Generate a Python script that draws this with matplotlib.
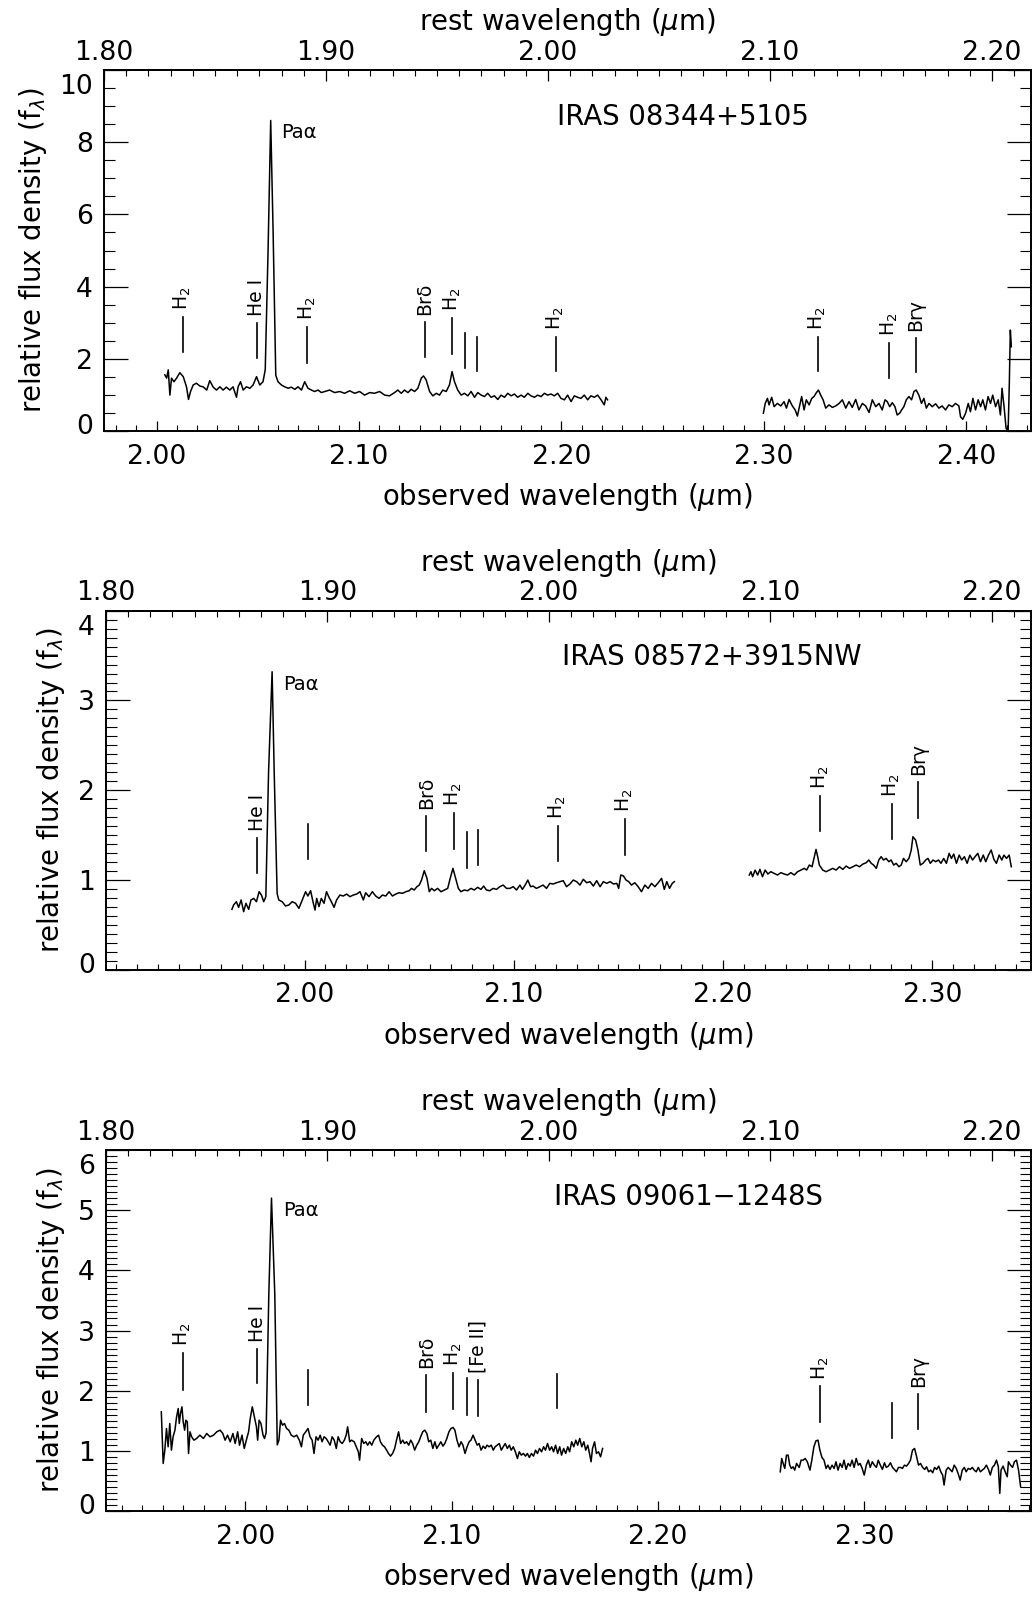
import matplotlib
matplotlib.use("Agg")
import matplotlib.pyplot as plt
from matplotlib.ticker import MultipleLocator, FormatStrFormatter
from matplotlib.transforms import ScaledTranslation

# ---- data ----
rest_range = [1.80, 2.2176]
rest_ticks = [1.80, 1.90, 2.00, 2.10, 2.20]

# IRAS 08344+5105
z1 = 0.0967
w1a = [2.0041, 2.0050, 2.0058, 2.0066, 2.0074, 2.0086, 2.0099, 2.0115, 2.0132, 2.0148,
       2.0158, 2.0168, 2.0181, 2.0197, 2.0214, 2.0230, 2.0248, 2.0263, 2.0280, 2.0296,
       2.0313, 2.0329, 2.0345, 2.0362, 2.0378, 2.0395, 2.0403, 2.0415, 2.0428, 2.0444,
       2.0461, 2.0477, 2.0494, 2.0510, 2.0526, 2.0537, 2.0551, 2.0564, 2.0576, 2.0589,
       2.0600, 2.0617, 2.0633, 2.0650, 2.0666, 2.0683, 2.0699, 2.0716, 2.0732, 2.0748,
       2.0765, 2.0781, 2.0798, 2.0814, 2.0831, 2.0855, 2.0880, 2.0905, 2.0929, 2.0954,
       2.0979, 2.1003, 2.1028, 2.1053, 2.1077, 2.1102, 2.1127, 2.1151, 2.1176, 2.1192,
       2.1209, 2.1225, 2.1242, 2.1258, 2.1275, 2.1291, 2.1308, 2.1319, 2.1332, 2.1349,
       2.1365, 2.1382, 2.1398, 2.1414, 2.1431, 2.1447, 2.1460, 2.1472, 2.1488, 2.1505,
       2.1521, 2.1538, 2.1554, 2.1571, 2.1587, 2.1604, 2.1620, 2.1636, 2.1653, 2.1669,
       2.1686, 2.1702, 2.1719, 2.1735, 2.1752, 2.1768, 2.1784, 2.1801, 2.1817, 2.1834,
       2.1850, 2.1867, 2.1883, 2.1900, 2.1916, 2.1932, 2.1949, 2.1965, 2.1982, 2.1998,
       2.2015, 2.2031, 2.2048, 2.2064, 2.2080, 2.2097, 2.2113, 2.2130, 2.2146, 2.2163,
       2.2179, 2.2196, 2.2212, 2.2220, 2.2228]
f1a = [1.56, 1.47, 1.70, 1.00, 1.47, 1.37, 1.47, 1.62, 1.51, 1.23,
       0.88, 1.10, 1.28, 1.33, 1.25, 1.23, 1.14, 1.40, 1.22, 1.14,
       1.23, 1.14, 1.22, 1.14, 1.23, 0.94, 1.23, 1.37, 1.14, 1.23,
       1.19, 1.28, 1.51, 1.28, 1.37, 1.70, 5.00, 8.60, 5.50, 1.55,
       1.37, 1.28, 1.23, 1.19, 1.22, 1.16, 1.23, 1.14, 1.37, 1.19,
       1.14, 1.10, 1.14, 1.07, 1.10, 1.14, 1.07, 1.10, 1.05, 1.12,
       1.05, 1.10, 1.00, 1.07, 1.05, 1.10, 1.00, 0.98, 1.07, 1.14,
       1.05, 1.14, 1.07, 1.16, 1.10, 1.19, 1.47, 1.53, 1.42, 1.10,
       0.98, 1.05, 1.00, 1.14, 1.10, 1.28, 1.65, 1.37, 1.14, 1.00,
       1.05, 0.98, 1.10, 0.94, 1.07, 1.00, 0.96, 1.05, 0.94, 0.98,
       0.88, 1.00, 0.94, 1.05, 0.98, 1.03, 0.94, 1.00, 0.94, 1.05,
       0.98, 0.94, 1.00, 0.96, 1.05, 1.00, 1.03, 0.98, 1.05, 0.91,
       0.87, 1.00, 0.82, 0.98, 0.94, 0.91, 1.00, 0.87, 0.98, 0.94,
       1.00, 0.87, 0.73, 0.94, 0.87]
w1b = [2.2998, 2.3007, 2.3018, 2.3026, 2.3039, 2.3051, 2.3067, 2.3084, 2.3100, 2.3112,
       2.3125, 2.3141, 2.3155, 2.3166, 2.3178, 2.3187, 2.3199, 2.3210, 2.3224, 2.3237,
       2.3248, 2.3260, 2.3270, 2.3281, 2.3293, 2.3306, 2.3322, 2.3339, 2.3355, 2.3372,
       2.3388, 2.3405, 2.3421, 2.3437, 2.3454, 2.3470, 2.3487, 2.3503, 2.3520, 2.3536,
       2.3553, 2.3569, 2.3585, 2.3599, 2.3610, 2.3622, 2.3635, 2.3648, 2.3659, 2.3671,
       2.3681, 2.3692, 2.3704, 2.3717, 2.3730, 2.3742, 2.3753, 2.3766, 2.3779, 2.3791,
       2.3803, 2.3816, 2.3832, 2.3849, 2.3865, 2.3881, 2.3898, 2.3914, 2.3931, 2.3947,
       2.3964, 2.3972, 2.3983, 2.3997, 2.4010, 2.4021, 2.4033, 2.4046, 2.4059, 2.4071,
       2.4082, 2.4095, 2.4108, 2.4120, 2.4131, 2.4145, 2.4158, 2.4169, 2.4177, 2.4187,
       2.4197, 2.4207, 2.4213, 2.4218, 2.4223]
f1b = [0.50, 0.77, 0.91, 0.73, 0.94, 0.68, 0.77, 0.70, 0.82, 0.64,
       0.88, 0.70, 0.59, 0.42, 0.73, 0.96, 0.59, 0.87, 0.73, 0.91,
       0.96, 1.07, 1.14, 1.00, 0.87, 0.64, 0.73, 0.66, 0.70, 0.77,
       0.87, 0.64, 0.82, 0.66, 0.88, 0.59, 0.77, 0.70, 0.52, 0.87,
       0.68, 0.77, 0.59, 0.87, 0.82, 0.68, 0.79, 0.68, 0.45, 0.50,
       0.59, 0.68, 0.87, 0.96, 0.87, 1.10, 1.14, 1.00, 0.77, 0.91,
       0.64, 0.77, 0.68, 0.76, 0.64, 0.70, 0.59, 0.73, 0.68, 0.77,
       0.70, 0.40, 0.33, 0.50, 0.77, 0.54, 0.91, 0.59, 0.87, 0.68,
       0.87, 0.59, 0.96, 0.77, 1.00, 0.68, 0.87, 0.45, 1.19, 0.68,
       0.08, 0.00, 1.33, 2.80, 2.34]

# IRAS 08572+3915NW
z2 = 0.0584
w2a = [1.9653, 1.9661, 1.9674, 1.9685, 1.9697, 1.9709, 1.9720, 1.9733, 1.9744, 1.9757,
       1.9770, 1.9783, 1.9794, 1.9805, 1.9815, 1.9828, 1.9845, 1.9855, 1.9869, 1.9877,
       1.9893, 1.9909, 1.9925, 1.9941, 1.9957, 1.9973, 1.9989, 2.0005, 2.0016, 2.0029,
       2.0042, 2.0050, 2.0058, 2.0069, 2.0080, 2.0093, 2.0105, 2.0117, 2.0128, 2.0141,
       2.0153, 2.0169, 2.0185, 2.0201, 2.0217, 2.0233, 2.0249, 2.0265, 2.0281, 2.0292,
       2.0308, 2.0324, 2.0340, 2.0356, 2.0372, 2.0388, 2.0404, 2.0420, 2.0436, 2.0452,
       2.0468, 2.0484, 2.0500, 2.0511, 2.0524, 2.0537, 2.0548, 2.0559, 2.0572, 2.0585,
       2.0596, 2.0607, 2.0620, 2.0636, 2.0652, 2.0668, 2.0684, 2.0696, 2.0709, 2.0722,
       2.0735, 2.0747, 2.0763, 2.0779, 2.0795, 2.0811, 2.0827, 2.0843, 2.0856, 2.0869,
       2.0885, 2.0901, 2.0917, 2.0933, 2.0949, 2.0965, 2.0981, 2.0997, 2.1013, 2.1029,
       2.1041, 2.1054, 2.1067, 2.1080, 2.1092, 2.1108, 2.1124, 2.1140, 2.1156, 2.1172,
       2.1188, 2.1204, 2.1220, 2.1236, 2.1252, 2.1268, 2.1284, 2.1300, 2.1316, 2.1332,
       2.1348, 2.1364, 2.1380, 2.1396, 2.1412, 2.1428, 2.1444, 2.1460, 2.1476, 2.1492,
       2.1501, 2.1511, 2.1524, 2.1536, 2.1549, 2.1562, 2.1578, 2.1594, 2.1610, 2.1626,
       2.1642, 2.1658, 2.1674, 2.1690, 2.1706, 2.1719, 2.1731, 2.1744, 2.1757, 2.1767]
f2a = [0.675, 0.723, 0.760, 0.697, 0.779, 0.649, 0.742, 0.675, 0.779, 0.797,
       0.760, 0.871, 0.834, 0.760, 0.816, 2.200, 3.320, 2.200, 0.850, 0.779,
       0.760, 0.712, 0.723, 0.760, 0.742, 0.686, 0.779, 0.871, 0.823, 0.882,
       0.742, 0.667, 0.797, 0.705, 0.797, 0.742, 0.871, 0.808, 0.760, 0.697,
       0.779, 0.834, 0.823, 0.845, 0.816, 0.834, 0.845, 0.871, 0.779, 0.860,
       0.816, 0.871, 0.823, 0.797, 0.834, 0.823, 0.871, 0.823, 0.845, 0.860,
       0.853, 0.871, 0.882, 0.908, 0.890, 0.927, 0.945, 1.001, 1.105, 1.020,
       0.871, 0.908, 0.882, 0.908, 0.871, 0.890, 0.908, 1.020, 1.131, 1.020,
       0.908, 0.871, 0.890, 0.882, 0.908, 0.890, 0.920, 0.897, 0.934, 0.890,
       0.882, 0.908, 0.897, 0.927, 0.945, 0.908, 0.908, 0.927, 0.890, 0.945,
       0.897, 0.945, 1.001, 0.927, 0.934, 0.908, 0.927, 0.945, 0.908, 0.964,
       0.957, 0.971, 0.983, 0.994, 0.927, 0.957, 1.001, 0.983, 0.945, 1.009,
       0.971, 0.983, 0.934, 0.994, 0.927, 0.983, 0.964, 0.983, 0.957, 0.964,
       0.908, 1.057, 1.046, 1.001, 0.983, 0.945, 0.971, 0.927, 0.871, 0.945,
       0.908, 0.964, 0.927, 0.971, 1.020, 0.897, 0.983, 0.908, 0.964, 0.983]
w2b = [2.2125, 2.2133, 2.2141, 2.2153, 2.2165, 2.2176, 2.2188, 2.2201, 2.2214, 2.2228,
       2.2244, 2.2260, 2.2276, 2.2292, 2.2308, 2.2324, 2.2340, 2.2356, 2.2372, 2.2388,
       2.2399, 2.2412, 2.2425, 2.2436, 2.2444, 2.2452, 2.2460, 2.2476, 2.2492, 2.2508,
       2.2524, 2.2540, 2.2556, 2.2572, 2.2588, 2.2604, 2.2620, 2.2636, 2.2652, 2.2668,
       2.2684, 2.2696, 2.2708, 2.2719, 2.2732, 2.2744, 2.2755, 2.2767, 2.2779, 2.2792,
       2.2803, 2.2815, 2.2827, 2.2840, 2.2851, 2.2862, 2.2875, 2.2888, 2.2899, 2.2907,
       2.2920, 2.2931, 2.2942, 2.2955, 2.2968, 2.2979, 2.2990, 2.3003, 2.3016, 2.3029,
       2.3041, 2.3054, 2.3067, 2.3080, 2.3091, 2.3102, 2.3115, 2.3128, 2.3140, 2.3153,
       2.3166, 2.3179, 2.3192, 2.3204, 2.3217, 2.3230, 2.3243, 2.3255, 2.3268, 2.3281,
       2.3294, 2.3306, 2.3319, 2.3332, 2.3342, 2.3354, 2.3367, 2.3377]
f2b = [1.057, 1.094, 1.038, 1.112, 1.057, 1.120, 1.038, 1.112, 1.068, 1.094,
       1.075, 1.057, 1.083, 1.068, 1.057, 1.083, 1.057, 1.094, 1.112, 1.131,
       1.112, 1.168, 1.149, 1.261, 1.342, 1.261, 1.168, 1.112, 1.094, 1.112,
       1.131, 1.112, 1.149, 1.120, 1.157, 1.131, 1.149, 1.168, 1.149, 1.179,
       1.194, 1.224, 1.187, 1.168, 1.131, 1.224, 1.261, 1.224, 1.242, 1.205,
       1.224, 1.168, 1.187, 1.149, 1.168, 1.242, 1.205, 1.242, 1.335, 1.483,
       1.446, 1.335, 1.168, 1.187, 1.224, 1.242, 1.187, 1.224, 1.205, 1.224,
       1.187, 1.242, 1.187, 1.298, 1.242, 1.290, 1.187, 1.279, 1.224, 1.261,
       1.187, 1.279, 1.224, 1.261, 1.298, 1.205, 1.279, 1.205, 1.279, 1.335,
       1.231, 1.187, 1.279, 1.224, 1.279, 1.242, 1.279, 1.149]

# IRAS 09061-1248S
z3 = 0.0736
w3a = [1.9593, 1.9602, 1.9610, 1.9618, 1.9626, 1.9634, 1.9642, 1.9650, 1.9659, 1.9667,
       1.9675, 1.9680, 1.9686, 1.9693, 1.9699, 1.9706, 1.9712, 1.9719, 1.9725, 1.9732,
       1.9740, 1.9751, 1.9764, 1.9780, 1.9797, 1.9813, 1.9829, 1.9846, 1.9862, 1.9878,
       1.9891, 1.9902, 1.9914, 1.9927, 1.9940, 1.9951, 1.9963, 1.9972, 1.9984, 1.9995,
       2.0005, 2.0016, 2.0024, 2.0034, 2.0044, 2.0054, 2.0060, 2.0067, 2.0076, 2.0086,
       2.0093, 2.0101, 2.0114, 2.0127, 2.0143, 2.0155, 2.0163, 2.0171, 2.0180, 2.0190,
       2.0200, 2.0211, 2.0223, 2.0236, 2.0249, 2.0262, 2.0272, 2.0281, 2.0293, 2.0304,
       2.0314, 2.0324, 2.0333, 2.0343, 2.0353, 2.0363, 2.0372, 2.0382, 2.0392, 2.0402,
       2.0411, 2.0421, 2.0431, 2.0441, 2.0450, 2.0460, 2.0470, 2.0480, 2.0489, 2.0496,
       2.0506, 2.0515, 2.0528, 2.0538, 2.0548, 2.0554, 2.0564, 2.0574, 2.0584, 2.0593,
       2.0603, 2.0613, 2.0623, 2.0636, 2.0646, 2.0655, 2.0665, 2.0675, 2.0685, 2.0694,
       2.0704, 2.0714, 2.0724, 2.0733, 2.0743, 2.0753, 2.0763, 2.0772, 2.0782, 2.0792,
       2.0802, 2.0811, 2.0821, 2.0831, 2.0841, 2.0850, 2.0860, 2.0870, 2.0880, 2.0889,
       2.0899, 2.0909, 2.0919, 2.0928, 2.0938, 2.0948, 2.0958, 2.0967, 2.0977, 2.0987,
       2.0997, 2.1007, 2.1016, 2.1026, 2.1036, 2.1046, 2.1055, 2.1065, 2.1075, 2.1085,
       2.1094, 2.1104, 2.1114, 2.1124, 2.1133, 2.1143, 2.1153, 2.1163, 2.1172, 2.1182,
       2.1192, 2.1202, 2.1211, 2.1221, 2.1231, 2.1241, 2.1250, 2.1260, 2.1270, 2.1280,
       2.1289, 2.1299, 2.1309, 2.1319, 2.1328, 2.1338, 2.1348, 2.1358, 2.1367, 2.1377,
       2.1387, 2.1397, 2.1407, 2.1416, 2.1426, 2.1436, 2.1446, 2.1455, 2.1465, 2.1475,
       2.1485, 2.1494, 2.1504, 2.1514, 2.1524, 2.1533, 2.1543, 2.1553, 2.1563, 2.1572,
       2.1582, 2.1592, 2.1602, 2.1611, 2.1621, 2.1631, 2.1641, 2.1650, 2.1660, 2.1670,
       2.1676, 2.1683, 2.1693, 2.1702, 2.1712, 2.1722, 2.1732]
f3a = [1.649, 0.791, 1.012, 1.372, 1.068, 1.455, 1.012, 1.234, 1.344, 1.566,
       1.704, 1.455, 1.621, 1.732, 1.483, 1.344, 1.510, 1.483, 0.957, 1.317,
       1.234, 1.178, 1.206, 1.261, 1.206, 1.289, 1.234, 1.261, 1.317, 1.344,
       1.289, 1.178, 1.261, 1.151, 1.289, 1.123, 1.317, 1.095, 1.261, 1.040,
       1.178, 1.317, 1.538, 1.732, 1.566, 1.400, 1.178, 1.510, 1.455, 1.261,
       1.206, 1.300, 3.600, 5.200, 3.600, 1.100, 1.178, 1.510, 1.427, 1.455,
       1.372, 1.344, 1.261, 1.234, 1.261, 1.178, 1.068, 1.261, 1.317, 1.372,
       1.234, 1.178, 0.957, 1.234, 1.178, 1.261, 1.151, 1.234, 1.206, 1.151,
       1.095, 1.234, 1.178, 1.040, 1.234, 1.151, 1.123, 1.178, 1.261, 1.400,
       1.151, 1.178, 1.151, 1.068, 0.985, 0.846, 1.206, 1.123, 1.151, 1.095,
       1.151, 1.095, 1.178, 1.234, 1.261, 1.151, 1.095, 1.068, 1.012, 0.957,
       0.913, 0.957, 1.040, 1.178, 1.317, 1.123, 1.178, 1.123, 1.151, 1.095,
       1.178, 1.123, 1.012, 1.095, 1.151, 1.234, 1.317, 1.344, 1.289, 1.151,
       1.178, 1.040, 1.151, 1.040, 1.095, 1.151, 1.079, 1.123, 1.206, 1.317,
       1.372, 1.389, 1.344, 1.178, 1.068, 1.151, 1.095, 0.957, 1.068, 1.151,
       1.178, 1.261, 1.178, 1.095, 1.123, 1.012, 1.079, 1.040, 1.095, 1.068,
       1.095, 1.012, 1.068, 1.095, 1.123, 1.012, 1.068, 1.123, 1.040, 1.095,
       1.012, 1.068, 0.985, 0.874, 0.985, 0.929, 0.957, 0.913, 0.957, 0.891,
       0.957, 0.913, 1.012, 0.957, 1.040, 0.985, 1.068, 1.012, 1.123, 1.012,
       1.068, 0.985, 1.095, 0.957, 1.068, 0.929, 1.040, 0.957, 1.068, 0.985,
       1.151, 1.068, 1.178, 1.095, 1.206, 1.068, 1.151, 1.012, 1.095, 0.929,
       0.819, 1.040, 1.151, 0.957, 0.985, 0.902, 1.040]
w3b = [2.2593, 2.2600, 2.2607, 2.2615, 2.2623, 2.2631, 2.2639, 2.2647, 2.2655, 2.2663,
       2.2672, 2.2685, 2.2694, 2.2704, 2.2714, 2.2724, 2.2737, 2.2746, 2.2756, 2.2766,
       2.2776, 2.2785, 2.2795, 2.2805, 2.2815, 2.2824, 2.2834, 2.2844, 2.2854, 2.2863,
       2.2873, 2.2883, 2.2893, 2.2902, 2.2912, 2.2922, 2.2932, 2.2941, 2.2951, 2.2961,
       2.2971, 2.2980, 2.2990, 2.3000, 2.3010, 2.3020, 2.3029, 2.3039, 2.3049, 2.3059,
       2.3068, 2.3078, 2.3088, 2.3098, 2.3107, 2.3117, 2.3127, 2.3137, 2.3146, 2.3156,
       2.3166, 2.3176, 2.3185, 2.3195, 2.3205, 2.3215, 2.3224, 2.3234, 2.3244, 2.3254,
       2.3263, 2.3273, 2.3283, 2.3293, 2.3302, 2.3312, 2.3322, 2.3332, 2.3341, 2.3351,
       2.3361, 2.3371, 2.3380, 2.3387, 2.3397, 2.3407, 2.3416, 2.3426, 2.3436, 2.3446,
       2.3455, 2.3465, 2.3475, 2.3485, 2.3494, 2.3504, 2.3514, 2.3524, 2.3533, 2.3543,
       2.3553, 2.3563, 2.3572, 2.3582, 2.3592, 2.3602, 2.3611, 2.3621, 2.3631, 2.3641,
       2.3650, 2.3657, 2.3663, 2.3673, 2.3683, 2.3693, 2.3699, 2.3709, 2.3719, 2.3728,
       2.3738, 2.3748, 2.3758]
f3b = [0.653, 0.874, 0.791, 0.708, 0.929, 0.929, 0.763, 0.708, 0.736, 0.680,
       0.791, 0.725, 0.846, 0.846, 0.874, 0.819, 0.680, 0.846, 1.068, 1.167,
       1.178, 1.012, 0.891, 0.846, 0.708, 0.763, 0.692, 0.763, 0.708, 0.819,
       0.680, 0.791, 0.725, 0.846, 0.692, 0.791, 0.747, 0.846, 0.725, 0.874,
       0.763, 0.791, 0.708, 0.598, 0.763, 0.846, 0.725, 0.819, 0.763, 0.725,
       0.846, 0.763, 0.692, 0.802, 0.725, 0.747, 0.802, 0.725, 0.692, 0.653,
       0.725, 0.725, 0.708, 0.763, 0.747, 0.791, 0.846, 1.012, 1.040, 0.902,
       0.763, 0.791, 0.725, 0.692, 0.736, 0.653, 0.680, 0.636, 0.725, 0.692,
       0.747, 0.653, 0.598, 0.432, 0.680, 0.725, 0.692, 0.653, 0.763, 0.708,
       0.625, 0.515, 0.680, 0.725, 0.653, 0.708, 0.692, 0.725, 0.680, 0.653,
       0.725, 0.653, 0.680, 0.708, 0.763, 0.692, 0.598, 0.725, 0.763, 0.846,
       0.736, 0.293, 0.680, 0.747, 0.653, 0.570, 0.819, 0.763, 0.725, 0.819,
       0.846, 0.680, 0.404]

# line markers: wavelength, bottom, top, label
m1_wave = [2.0129, 2.0494, 2.0744, 2.1326, 2.1461, 2.1525, 2.1582, 2.1972, 2.3266, 2.3620, 2.3751]
m1_lo = [2.20, 2.02, 1.90, 2.05, 2.14, 1.74, 1.67, 1.68, 1.68, 1.47, 1.63]
m1_hi = [3.17, 3.00, 2.89, 3.03, 3.14, 2.72, 2.62, 2.62, 2.62, 2.43, 2.58]
m1_text = ["H$_2$", "He I", "H$_2$", "Br\u03b4", "H$_2$", "", "", "H$_2$", "H$_2$", "H$_2$", "Br\u03b3"]

m2_wave = [1.9775, 2.0018, 2.0581, 2.0712, 2.0776, 2.0830, 2.1209, 2.1529, 2.2463, 2.2805, 2.2933]
m2_lo = [1.076, 1.23, 1.324, 1.345, 1.14, 1.17, 1.21, 1.28, 1.546, 1.46, 1.695]
m2_hi = [1.465, 1.62, 1.713, 1.75, 1.54, 1.56, 1.60, 1.68, 1.935, 1.85, 2.095]
m2_text = ["He I", "", "Br\u03b4", "H$_2$", "", "", "H$_2$", "H$_2$", "H$_2$", "H$_2$", "Br\u03b3"]

m3_wave = [1.9696, 2.0057, 2.0304, 2.0877, 2.1008, 2.1073, 2.1130, 2.1511, 2.2787, 2.3137, 2.3262]
m3_lo = [2.02, 2.12, 1.76, 1.65, 1.70, 1.60, 1.58, 1.705, 1.48, 1.21, 1.37]
m3_hi = [2.62, 2.70, 2.35, 2.26, 2.29, 2.21, 2.18, 2.285, 2.07, 1.80, 1.95]
m3_text = ["H$_2$", "He I", "", "Br\u03b4", "H$_2$", "", "[Fe II]", "", "H$_2$", "", "Br\u03b3"]

panels = [
    dict(name="IRAS 08344+5105", z=z1, segs=[(w1a, f1a), (w1b, f1b)],
         ylim=(0, 10), yticks=[0, 2, 4, 6, 8, 10], yminor=0.5,
         xticks=[2.00, 2.10, 2.20, 2.30, 2.40],
         mw=m1_wave, mlo=m1_lo, mhi=m1_hi, mt=m1_text, pa=(2.0617, 8.26),
         rect=[0.1008, 0.7303, 0.8983, 0.2260], name_pos=(0.489, 0.870), ylab_x=-0.0766),
    dict(name="IRAS 08572+3915NW", z=z2, segs=[(w2a, f2a), (w2b, f2b)],
         ylim=(0, 4), yticks=[0, 1, 2, 3, 4], yminor=0.1,
         xticks=[2.00, 2.10, 2.20, 2.30],
         mw=m2_wave, mlo=m2_lo, mhi=m2_hi, mt=m2_text, pa=(1.9898, 3.18),
         rect=[0.1027, 0.3934, 0.8963, 0.2247], name_pos=(0.493, 0.872), ylab_x=-0.0595),
    dict(name="IRAS 09061\u22121248S", z=z3, segs=[(w3a, f3a), (w3b, f3b)],
         ylim=(0, 6), yticks=[0, 1, 2, 3, 4, 5, 6], yminor=0.1,
         xticks=[2.00, 2.10, 2.20, 2.30],
         mw=m3_wave, mlo=m3_lo, mhi=m3_hi, mt=m3_text, pa=(2.0184, 5.00),
         rect=[0.1027, 0.0550, 0.8963, 0.2258], name_pos=(0.484, 0.871), ylab_x=-0.0595),
]

fs = 19.2
fig = plt.figure(figsize=(10.32, 15.99), dpi=100)

for p in panels:
    ax = fig.add_axes(p["rect"])
    z = p["z"]
    for w, f in p["segs"]:
        ax.plot(w, f, color="black", lw=1.1)
    ax.set_xlim(rest_range[0] * (1 + z), rest_range[1] * (1 + z))
    ax.set_ylim(*p["ylim"])

    # line markers
    for x, lo, hi, t in zip(p["mw"], p["mlo"], p["mhi"], p["mt"]):
        ax.plot([x, x], [lo, hi], color="black", lw=1.2)
        if t:
            ax.annotate(t, (x, hi), xytext=(0, 5), textcoords="offset points",
                        rotation=90, ha="center", va="bottom", fontsize=13.5)
    ax.text(p["pa"][0], p["pa"][1], "Pa\u03b1", fontsize=14, ha="left", va="center")
    ax.text(p["name_pos"][0], p["name_pos"][1], p["name"], transform=ax.transAxes,
            fontsize=fs + 0.6, ha="left", va="center")

    for s in ax.spines.values():
        s.set_linewidth(1.4)
    ax.set_xticks(p["xticks"])
    ax.xaxis.set_minor_locator(MultipleLocator(0.01))
    ax.xaxis.set_major_formatter(FormatStrFormatter("%.2f"))
    ax.set_yticks(p["yticks"])
    ax.yaxis.set_minor_locator(MultipleLocator(p["yminor"]))
    ax.tick_params(which="both", direction="in", top=False, right=True, labelsize=fs)
    ax.tick_params(axis="y", which="major", length=17, width=0.9, pad=8)
    ax.tick_params(axis="y", which="minor", length=8, width=0.8)
    ax.tick_params(axis="x", which="major", length=7, width=0.9, pad=9)
    ax.tick_params(axis="x", which="minor", length=4, width=0.8)

    # like the original, the end labels of the y axis sit inside the axis range
    yt = ax.yaxis.get_major_ticks()
    yt[-1].label1.set_transform(yt[-1].label1.get_transform()
                                + ScaledTranslation(0, -10 / 72, fig.dpi_scale_trans))
    yt[0].label1.set_transform(yt[0].label1.get_transform()
                               + ScaledTranslation(0, 5 / 72, fig.dpi_scale_trans))

    sec = ax.secondary_xaxis("top", functions=(lambda x, z=z: x / (1 + z),
                                               lambda r, z=z: r * (1 + z)))
    sec.set_xticks(rest_ticks)
    sec.xaxis.set_minor_locator(MultipleLocator(0.01))
    sec.xaxis.set_major_formatter(FormatStrFormatter("%.2f"))
    sec.tick_params(which="both", direction="in", labelsize=fs)
    sec.tick_params(which="major", length=8, width=0.9, pad=3)
    sec.tick_params(which="minor", length=4, width=0.8)
    sec.spines["top"].set_linewidth(1.4)

    ax.text(0.5, 1.133, "rest wavelength ($\\mu$m)", transform=ax.transAxes,
            fontsize=fs + 0.6, ha="center", va="center")
    ax.text(0.5, -0.183, "observed wavelength ($\\mu$m)", transform=ax.transAxes,
            fontsize=fs + 0.6, ha="center", va="center")
    ax.text(p["ylab_x"], 0.5, "relative flux density (f$_\\lambda$)", transform=ax.transAxes,
            fontsize=fs + 0.6, ha="center", va="center", rotation=90)

fig.savefig("out.png", dpi=100)
